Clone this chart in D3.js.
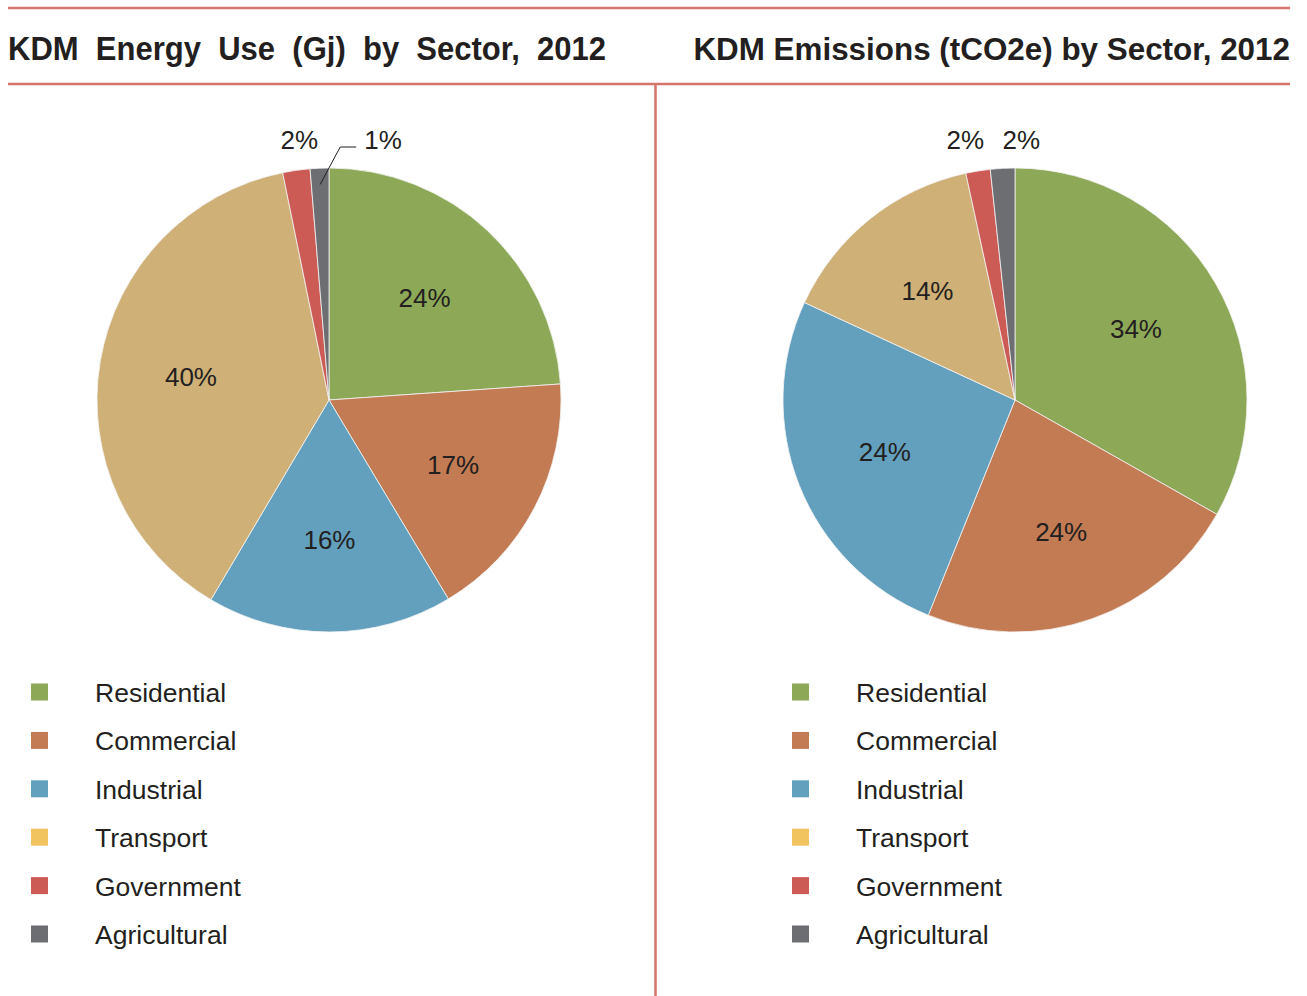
<!DOCTYPE html>
<html>
<head>
<meta charset="utf-8">
<script src="https://cdn.jsdelivr.net/npm/d3@7"></script>
<style>
  html, body { margin: 0; padding: 0; background: #fff; }
  text { font-family: "Liberation Sans", Arial, sans-serif; fill: #231f20; }
  .title { white-space: pre; }
</style>
</head>
<body>
<svg id="container" width="1307" height="996"></svg>
<script>
const sectors = ["Residential", "Commercial", "Industrial", "Transport", "Government", "Agricultural"];
const legendColors = ["#8da957", "#c27b52", "#62a0be", "#f2c45f", "#cc5b55", "#6d6e72"];
const sliceColors = ["#8da957", "#c27b52", "#62a0be", "#cfb077", "#cc5b55", "#6d6e72"];

const energyValues = [23.9, 17.5, 17.1, 38.3, 1.9, 1.3];
const energyLabels = ["24%", "17%", "16%", "40%", "2%", "1%"];
const emissionValues = [33.2, 22.9, 25.8, 14.7, 1.7, 1.7];
const emissionLabels = ["34%", "24%", "24%", "14%", "2%", "2%"];

const titles = ["KDM  Energy  Use  (Gj)  by  Sector,  2012", "KDM Emissions (tCO2e) by Sector, 2012"];

const svg = d3.select("#container");
const lineColor = "#d4756c";
const R = 232;

// frame lines
svg.append("line").attr("x1", 8).attr("x2", 1290).attr("y1", 8).attr("y2", 8)
  .attr("stroke", lineColor).attr("stroke-width", 2.5);
svg.append("line").attr("x1", 8).attr("x2", 1290).attr("y1", 84).attr("y2", 84)
  .attr("stroke", lineColor).attr("stroke-width", 2.5);
svg.append("line").attr("x1", 655.5).attr("x2", 655.5).attr("y1", 84).attr("y2", 996)
  .attr("stroke", lineColor).attr("stroke-width", 2.5);

// titles
svg.append("text").attr("class", "title")
  .attr("x", 8).attr("y", 60)
  .attr("font-size", 33).attr("font-weight", "bold")
  .attr("textLength", 598).attr("lengthAdjust", "spacingAndGlyphs")
  .text(titles[0]);
svg.append("text").attr("class", "title")
  .attr("x", 1290).attr("y", 60)
  .attr("text-anchor", "end")
  .attr("font-size", 31.4).attr("font-weight", "bold")
  .text(titles[1]);

const pie = d3.pie().sort(null).value(d => d);
const arc = d3.arc().innerRadius(0).outerRadius(R);
const labelArc = d3.arc().innerRadius(140).outerRadius(140);

function drawPie(cx, cy, values, labels) {
  const g = svg.append("g").attr("transform", `translate(${cx},${cy})`);
  const arcs = pie(values);
  g.selectAll("path")
    .data(arcs)
    .join("path")
    .attr("d", arc)
    .attr("fill", (d, i) => sliceColors[i])
    .attr("stroke", "#f4f4f4")
    .attr("stroke-width", 0.8);

  const big = arcs.filter(d => d.value >= 5);
  g.selectAll(".inlabel")
    .data(big)
    .join("text")
    .attr("class", "inlabel")
    .attr("transform", d => `translate(${labelArc.centroid(d)})`)
    .attr("text-anchor", "middle")
    .attr("dominant-baseline", "central")
    .attr("font-size", 26)
    .text(d => labels[d.index]);

  // small slices: labels above the pie
  const small = arcs.filter(d => d.value < 5).map(d => {
    const a = (d.startAngle + d.endAngle) / 2;
    return { d: d, a: a, x: R * Math.sin(a), leader: d.value < 1.5 };
  });
  const free = small.filter(s => !s.leader);
  if (free.length > 1) {
    const mid = d3.mean(free, s => s.x);
    free.forEach((s, i) => { s.x = mid + (i - (free.length - 1) / 2) * 56; });
  }
  const ly = -R - 28;
  small.forEach(s => {
    if (s.leader) {
      const sx = 0.93 * R * Math.sin(s.a), sy = -0.93 * R * Math.cos(s.a);
      const ex = sx + 20, ey = -R - 21;
      g.append("polyline")
        .attr("points", [[sx, sy], [ex, ey], [ex + 16, ey]].map(p => p.join(",")).join(" "))
        .attr("fill", "none").attr("stroke", "#231f20").attr("stroke-width", 1);
      g.append("text")
        .attr("x", ex + 24).attr("y", ly)
        .attr("dominant-baseline", "central")
        .attr("font-size", 26)
        .text(labels[s.d.index]);
    } else {
      g.append("text")
        .attr("x", s.x + 3).attr("y", ly)
        .attr("text-anchor", "middle")
        .attr("dominant-baseline", "central")
        .attr("font-size", 26)
        .text(labels[s.d.index]);
    }
  });
}

function drawLegend(x0, y0) {
  const g = svg.append("g").attr("transform", `translate(${x0},${y0})`);
  const item = g.selectAll("g")
    .data(sectors)
    .join("g")
    .attr("transform", (d, i) => `translate(0,${i * 48.4})`);
  item.append("rect")
    .attr("x", 0).attr("y", -8.5)
    .attr("width", 17).attr("height", 17)
    .attr("fill", (d, i) => legendColors[i]);
  item.append("text")
    .attr("x", 64).attr("y", 1)
    .attr("dominant-baseline", "central")
    .attr("font-size", 26.5)
    .text(d => d);
}

drawPie(329, 400, energyValues, energyLabels);
drawPie(1015, 400, emissionValues, emissionLabels);
drawLegend(31, 692);
drawLegend(792, 692);
</script>
</body>
</html>
